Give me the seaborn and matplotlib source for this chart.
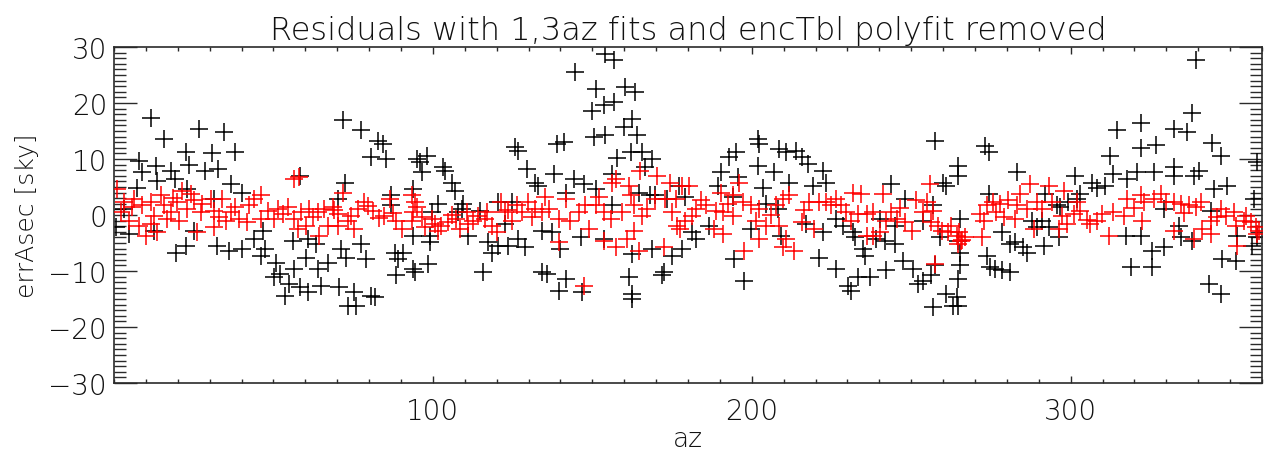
import numpy as np
import pandas as pd
import seaborn as sns
import matplotlib.pyplot as plt
from matplotlib.ticker import MultipleLocator, FixedLocator

# residuals before removing the encTbl polyfit (black)
black_az = [
    0.5, 3.1, 11.7, 26.6, 34.5, 15.7, 22.5, 30.8, 37.8, 7.8, 13.1, 8.9, 23.5, 17.8, 28.5, 32.7,
    13.6, 19.1, 36.6, 7.3, 23.0, 40.2, 31.3, 4.7, 12.5, 25.1, 19.3, 22.5, 32.4, 36.0, 40.2, 43.9,
    71.7, 77.3, 82.7, 84.3, 80.6, 85.3, 58.2, 72.5, 70.2, 86.9, 86.9, 46.7, 47.2, 46.1, 56.1, 60.8,
    63.4, 71.2, 72.8, 77.5, 79.1, 60.3, 56.6, 50.8, 50.3, 51.9, 55.0, 58.2, 60.8, 53.5, 64.9, 67.0,
    63.9, 70.7, 75.4, 73.3, 75.9, 80.6, 81.7, 88.0, 88.5, 89.0,
    98.0, 94.9, 95.9, 96.5, 103.3, 103.8, 105.9, 106.9, 109.5, 109.0, 101.7, 99.6, 93.9, 93.9, 99.1, 99.1,
    98.6, 93.9, 94.4, 90.7, 111.1, 115.8, 114.8, 117.4, 118.4, 120.5, 123.6, 126.8, 128.9, 125.7, 126.8, 129.4,
    132.0, 133.0, 120.5, 124.7, 134.1, 134.1, 122.6, 108.0,
    154.1, 156.7, 144.5, 151.0, 160.4, 163.5, 153.6, 156.7, 149.9, 162.3, 159.9, 164.0, 150.5, 154.1, 139.0, 141.0,
    157.8, 162.0, 165.6, 168.7, 137.9, 144.2, 147.3, 151.0, 156.2, 141.6, 166.6, 164.6, 169.8, 173.4, 177.1, 179.2,
    137.4, 146.3, 153.6, 140.0, 162.5, 168.7, 175.0, 178.1, 135.8, 141.6, 139.5, 161.4, 162.5, 162.5, 171.9, 172.4,
    156.2, 168.2, 146.8,
    202.3, 201.8, 195.0, 193.0, 208.6, 210.7, 213.8, 215.9, 217.5, 201.8, 190.3, 207.0, 211.7, 222.2, 223.2, 195.6,
    189.3, 203.4, 219.1, 194.0, 208.1, 181.4, 182.5, 194.5, 197.6, 221.2, 199.7, 209.1, 217.0, 222.2, 186.7, 204.4,
    257.4, 264.7, 264.7, 260.0, 261.0, 243.8, 248.0, 256.8, 265.2, 226.5, 230.2, 231.2, 233.3, 237.0, 242.2, 235.4,
    234.9, 232.3, 239.1, 241.7, 244.8, 247.4, 250.6, 252.1, 253.7, 256.3, 256.8, 257.4, 261.0, 264.2, 263.1, 264.7,
    264.7, 265.2, 265.2, 264.7, 226.5, 228.6, 231.8, 240.1, 244.8, 253.7, 259.0,
    273.2, 274.3, 283.1, 274.3, 278.4, 281.0, 282.6, 285.2, 286.3, 291.5, 273.7, 274.8, 276.3, 278.4, 281.0, 287.8,
    291.0, 293.1, 296.2, 296.7, 299.3, 301.4, 303.0, 302.0, 306.7, 308.2, 310.8, 312.4, 313.4, 314.5, 292.0, 295.7,
    289.4,
    339.2, 338.2, 322.2, 332.4, 336.6, 326.7, 322.0, 344.4, 347.0, 358.5, 332.4, 340.3, 326.1, 320.9, 317.8, 332.4,
    338.7, 345.0, 349.1, 357.5, 317.3, 322.0, 325.6, 329.3, 334.5, 338.2, 318.8, 325.6, 343.4, 347.0, 347.6, 351.7,
    352.3, 357.0, 358.5, 334.0, 343.9, 329.3,
]
black_err = [
    -2.2, 1.1, 17.3, 15.4, 14.8, 13.5, 11.2, 11.1, 11.2, 9.7, 8.8, 7.7, 8.9, 7.9, 7.9, 8.3,
    6.1, 6.4, 5.5, 4.9, 4.6, 4.0, 2.9, -3.4, -2.8, -2.8, -6.7, -5.5, -5.5, -6.4, -6.0, -4.3,
    17.0, 15.1, 13.3, 12.7, 10.3, 10.0, 7.0, 5.7, 2.9, 3.5, 1.7, -2.8, -6.1, -7.3, -4.6, -4.3,
    -5.2, -6.1, -7.6, -5.2, -7.9, -7.6, -9.6, -8.6, -11.1, -10.5, -12.3, -12.9, -13.8, -14.4, -12.6, -8.5,
    -9.6, -12.9, -13.8, -16.2, -16.2, -14.4, -14.7, -6.7, -10.8, -7.9,
    10.6, 10.0, 9.4, 7.6, 8.5, 7.9, 5.8, 4.3, 2.0, 1.1, 2.0, 0.5, 4.6, -3.7, -3.7, -4.9,
    -8.75, -9.6, -10.2, -6.7, -3.7, -10.2, 0.8, -4.9, -6.7, -5.5, -5.5, -4.3, -5.8, 12.1, 11.5, 8.2,
    5.8, 5.2, 2.3, 2.3, -2.8, -10.2, -1.6, 0.5,
    28.8, 27.6, 25.6, 22.5, 22.8, 22.0, 19.6, 20.1, 18.6, 17.1, 15.7, 14.2, 13.9, 14.3, 12.7, 13.0,
    10.1, 11.2, 11.2, 10.0, 7.3, 6.4, 5.5, 4.6, 7.3, 4.0, 8.5, 4.0, 3.5, 2.9, 5.2, 3.2,
    -3.1, -4.0, -4.3, -6.1, -7.0, -6.1, -7.3, -6.1, -10.5, -11.5, -13.5, -11.1, -14.1, -15.0, -10.8, -10.2,
    1.7, 3.5, -13.8,
    12.7, 13.6, 11.2, 10.3, 11.8, 11.3, 11.5, 10.3, 9.1, 8.8, 7.6, 7.6, 5.8, 7.9, 5.8, 6.7,
    5.2, 4.9, 5.2, 3.2, 1.1, -3.1, -4.3, -7.9, -11.7, -7.6, -2.5, -3.7, -1.6, -3.1, -1.9, 2.0,
    13.3, 8.8, 7.0, 5.8, 5.2, 5.5, 2.9, 1.7, -0.7, -9.6, -12.6, -13.5, -11.1, -11.1, -9.9, -7.3,
    -6.1, -4.0, -4.3, -4.6, -5.2, -8.2, -9.6, -12.3, -11.7, -10.8, -16.5, -9.0, -14.1, -14.7, -16.2, -16.2,
    -11.4, -9.0, -6.7, -4.6, -0.7, -1.9, -3.1, -0.7, -1.9, -1.0, -4.0,
    12.4, 11.2, 7.6, 3.8, -3.1, -5.2, -4.9, -5.8, -6.7, -5.5, -7.3, -9.3, -9.6, -9.9, -10.2, -1.0,
    -1.0, -2.2, -4.0, 1.4, 2.3, 7.0, 3.8, 2.9, 5.8, 4.9, 5.2, 10.6, 7.3, 15.1, 3.8, 1.7,
    -2.2,
    27.7, 18.2, 16.5, 15.4, 14.8, 12.5, 11.9, 12.9, 10.5, 9.4, 8.5, 7.9, 7.6, 7.6, 6.4, 7.0,
    7.0, 4.6, 5.2, 2.9, -3.7, -3.7, -6.4, -5.8, -4.0, -4.6, -9.3, -9.3, -12.3, -14.1, -7.9, -8.2,
    -3.7, -5.5, -4.0, -1.9, 0.8, 1.1,
]

# residuals after the encTbl polyfit was removed (red)
red_az = [
    1.0, 3.1, 6.3, 8.9, 11.5, 14.6, 15.7, 12.5, 16.7, 9.9, 13.6, 17.8, 21.4, 24.0, 23.0, 27.2,
    30.3, 34.0, 31.3, 36.6, 35.0, 39.2, 41.8, 43.9, 42.3, 2.1, 4.7, 7.8, 19.9, 27.7, 31.3, 11.5,
    26.1, 20.4, 5.5, 18.5, 25.0, 33.0, 38.0,
    56.6, 58.0, 46.1, 48.2, 51.4, 54.5, 56.6, 58.7, 61.3, 63.9, 66.0, 68.6, 71.7, 70.2, 73.3, 75.4,
    76.4, 78.5, 81.1, 84.8, 86.4, 88.5, 60.3, 64.4, 57.6, 74.4, 50.3, 46.1, 67.0, 70.2,
    53.0, 62.5, 69.0, 79.5, 83.0, 87.5,
    93.3, 94.4, 93.9, 93.3, 96.5, 99.6, 100.6, 101.7, 104.8, 107.4, 108.5, 110.6, 112.7, 114.2, 116.3, 118.4,
    120.0, 121.5, 122.6, 124.7, 126.3, 127.8, 129.9, 132.0, 134.1, 97.5, 90.2, 111.1,
    95.0, 102.5, 106.0, 117.0, 123.5, 131.0,
    147.3, 156.2, 157.3, 161.4, 165.1, 170.3, 174.5, 178.1, 163.0, 162.0, 165.6, 167.2, 172.9, 176.1, 176.6, 179.2,
    175.0, 135.3, 136.3, 139.5, 141.6, 143.1, 145.7, 147.8, 148.9, 151.0, 153.6, 155.7, 152.0, 139.5, 153.6, 157.3,
    160.9, 163.0, 164.6, 172.4, 159.3, 169.8, 177.6,
    180.4, 182.5, 185.6, 188.8, 190.9, 190.3, 194.0, 196.1, 197.1, 199.7, 202.3, 201.3, 204.4, 202.3, 197.6, 190.9,
    188.2, 207.6, 209.7, 211.7, 208.6, 210.7, 213.3, 209.7, 215.9, 218.0, 221.2, 223.2, 219.6, 224.8, 194.0, 181.4,
    184.0, 192.5, 206.0, 216.5,
    226.5, 228.1, 231.8, 234.4, 231.2, 233.3, 236.0, 238.0, 241.2, 243.8, 245.4, 242.2, 248.0, 251.6, 254.8, 253.7,
    255.8, 256.8, 256.3, 258.4, 259.5, 261.5, 264.2, 265.7, 264.7, 266.8, 257.4, 238.0, 250.1, 240.1, 236.0, 266.0,
    229.5, 246.5, 262.5, 265.0,
    271.6, 272.7, 272.2, 273.7, 275.8, 277.9, 280.5, 283.1, 284.2, 287.3, 286.3, 289.4, 291.0, 293.1, 294.1, 297.2,
    298.8, 296.2, 300.9, 303.0, 306.1, 308.2, 309.8, 311.9, 313.4, 297.8, 288.4, 282.6,
    276.5, 279.0, 302.0, 305.0,
    317.8, 322.0, 323.0, 326.1, 328.2, 329.8, 332.4, 334.5, 337.1, 339.2, 340.8, 322.5, 332.4, 338.7, 341.3, 343.9,
    346.0, 347.0, 348.6, 351.2, 352.3, 351.7, 354.4, 356.5, 358.0, 358.5, 343.9, 316.7,
    320.0, 335.5, 355.0, 359.0,
]
red_err = [
    4.6, 2.3, 2.9, 1.7, 2.3, 3.5, 1.7, -0.1, -0.7, -3.7, -3.1, 0.5, 4.3, 3.8, 1.1, 0.5,
    2.9, 2.9, 0.8, 0.5, -1.0, -0.7, -1.3, 2.9, 1.7, 0.5, -1.0, -1.9, 2.3, 2.0, -2.2, -1.6,
    -3.1, -1.0, 1.4, 3.0, 2.6, -0.4, 1.5,
    6.4, 6.7, 3.5, 0.8, 1.1, 1.4, -0.7, 0.5, 1.1, 0.5, 1.1, 1.4, 4.0, 0.2, -1.0, -2.5,
    1.1, 2.3, 0.8, -0.1, 2.9, -1.0, -1.9, -3.7, -2.5, -0.1, -0.7, -0.7, -1.9, -1.9,
    0.2, -0.4, 0.9, 1.6, -0.6, 0.3,
    3.5, 2.3, 0.5, -1.0, -0.4, -0.7, -1.6, -2.8, -1.3, -0.7, -2.5, 0.5, -1.0, -0.1, -0.7, -1.9,
    -3.1, 2.3, 0.5, -1.0, 1.7, 0.5, 2.3, 1.1, 0.5, -2.2, -2.5, -1.6,
    1.5, -1.9, 0.0, 0.6, 0.9, -0.3,
    -12.6, 5.8, 6.4, 5.2, 7.9, 7.0, 5.8, 5.2, 1.7, 3.5, -0.1, 1.1, 2.9, 2.9, -1.9, -1.0,
    0.5, 3.2, 1.1, -0.7, 2.9, -1.0, 0.5, 1.7, -2.5, 1.7, 0.5, -0.7, 3.2, -4.9, -4.6, -5.8,
    -4.3, -2.8, -6.4, -5.8, 0.5, 2.9, -2.5,
    5.2, 1.1, 1.7, 0.8, 0.5, 4.0, 3.5, 5.8, 2.3, 1.7, 1.1, -1.0, -1.9, -4.3, -6.4, -3.4,
    -2.5, 1.7, 2.9, 3.5, -1.9, -4.3, -6.4, -5.8, -1.3, 2.3, 2.3, 2.3, -2.5, 1.7, -0.1, -0.1,
    2.6, 1.9, 0.0, 0.9,
    2.9, 1.7, 4.0, 3.8, -1.0, 0.2, 0.2, 0.5, 3.8, 0.5, -0.7, -1.0, -1.3, 2.6, 2.3, 0.5,
    5.5, 0.8, -1.3, -1.9, -2.8, -3.1, -3.7, -4.6, -5.2, -4.0, -8.75, -3.7, -2.8, -3.1, -3.7, -4.4,
    0.6, 1.2, -2.0, -3.0,
    0.2, -1.0, -4.0, 1.7, 2.3, 2.0, 2.6, 1.7, 3.8, 5.5, 1.1, 2.3, 1.1, 5.2, 2.3, -0.1,
    -1.6, -2.5, 0.2, 0.8, -1.6, -1.0, 0.2, -3.7, 0.5, 4.3, -2.5, -0.7,
    0.6, -0.3, 2.4, -0.9,
    2.9, 3.5, 2.3, 2.9, 3.8, 2.3, 2.3, 2.0, 1.7, 1.4, 2.3, -1.0, -2.8, -4.3, -2.5, -1.0,
    -0.4, 1.1, -0.1, 0.5, -5.5, -1.9, -1.0, -1.3, -2.2, -3.4, -3.4, -0.1,
    1.2, 0.4, -0.2, -2.8,
]

title_text = "Residuals with 1,3az fits and encTbl polyfit removed"
x_label = "az"
y_label = "errAsec [sky]"
x_major = [100, 200, 300]

black = pd.DataFrame({"az": black_az, "err": black_err})
red = pd.DataFrame({"az": red_az, "err": red_err})

sns.set_style("white")
plt.rcParams["font.family"] = ["DejaVu Sans"]
plt.rcParams["font.weight"] = "light"
plt.rcParams["axes.titleweight"] = "light"
plt.rcParams["axes.labelweight"] = "light"
ink = "#2a2a2a"
txt = "#111111"

fig = plt.figure(figsize=(12.64, 4.56), dpi=100)
ax = fig.add_axes([114 / 1264, 1 - 384 / 456, 1148 / 1264, 336 / 456])

sns.scatterplot(data=black, x="az", y="err", marker="+", color="black",
                s=150, linewidth=1.1, ax=ax, legend=False, zorder=2)
sns.scatterplot(data=red, x="az", y="err", marker="+", color="red",
                s=150, linewidth=1.1, ax=ax, legend=False, zorder=3)

ax.set_xlim(0, 360)
ax.set_ylim(-30, 30)
ax.xaxis.set_major_locator(FixedLocator(x_major))
ax.xaxis.set_minor_locator(MultipleLocator(10))
ax.yaxis.set_major_locator(MultipleLocator(10))
ax.yaxis.set_minor_locator(MultipleLocator(1))

ax.tick_params(axis="x", which="major", direction="in", length=5, width=1,
               top=True, bottom=True, color=ink, labelsize=20, labelcolor=txt, pad=10)
ax.tick_params(axis="x", which="minor", direction="in", length=3, width=1,
               top=True, bottom=True, color=ink)
ax.tick_params(axis="y", which="major", direction="in", length=16.5, width=1,
               left=True, right=True, color=ink, labelsize=20, labelcolor=txt, pad=5)
ax.tick_params(axis="y", which="minor", direction="in", length=8.3, width=1,
               left=True, right=True, color=ink)
for sp in ax.spines.values():
    sp.set_color(ink)
    sp.set_linewidth(1.2)

ax.set_xlabel(x_label, fontsize=19, color=txt, labelpad=1)
ax.set_ylabel(y_label, fontsize=18, color=txt, labelpad=7)
ax.set_title(title_text, fontsize=23, color=txt, pad=6)

fig.savefig("out.png", dpi=100)
